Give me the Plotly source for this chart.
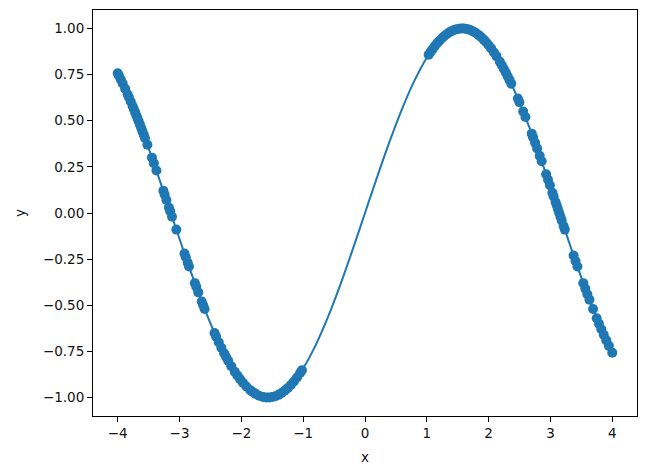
import plotly.graph_objects as go

# Smooth curve (sampled)
line_x = [-4.0, -3.8, -3.6, -3.4, -3.2, -3.0, -2.8, -2.6, -2.4, -2.2, -2.0, -1.8, -1.6, -1.4, -1.2, -1.0,
          -0.8, -0.6, -0.4, -0.2, 0.0, 0.2, 0.4, 0.6, 0.8, 1.0, 1.2, 1.4, 1.6, 1.8, 2.0, 2.2, 2.4, 2.6,
          2.8, 3.0, 3.2, 3.4, 3.6, 3.8, 4.0]
line_y = [0.7568, 0.6119, 0.4425, 0.2555, 0.0584, -0.1411, -0.3350, -0.5155, -0.6755, -0.8085, -0.9093,
          -0.9738, -0.9996, -0.9854, -0.9320, -0.8415, -0.7174, -0.5646, -0.3894, -0.1987, 0.0, 0.1987,
          0.3894, 0.5646, 0.7174, 0.8415, 0.9320, 0.9854, 0.9996, 0.9738, 0.9093, 0.8085, 0.6755, 0.5155,
          0.3350, 0.1411, -0.0584, -0.2555, -0.4425, -0.6119, -0.7568]

# Sampled points
pts_x = [-4.00, -3.98, -3.95, -3.92, -3.88, -3.84, -3.82, -3.79, -3.76, -3.74, -3.72, -3.70, -3.68, -3.66,
         -3.64, -3.62, -3.60, -3.58, -3.56, -3.52, -3.446, -3.415, -3.374, -3.262, -3.242, -3.212, -3.172,
         -3.152, -3.122, -3.052, -2.920, -2.899, -2.868, -2.847, -2.752, -2.730, -2.697, -2.641, -2.618,
         -2.595, -2.434, -2.408, -2.366, -2.324, -2.279, -2.247, -2.214, -2.163, -2.107, -2.066, -2.022,
         -1.974, -1.920, -1.855, -1.816, -1.771, -1.713, -1.65, -1.60, -1.55, -1.50, -1.45, -1.40, -1.35,
         -1.30, -1.25, -1.20, -1.15, -1.10, -1.05, -1.02,
         1.03, 1.06, 1.09, 1.13, 1.17, 1.20, 1.24, 1.28, 1.32, 1.36, 1.40, 1.44, 1.48, 1.52, 1.56, 1.60,
         1.64, 1.68, 1.72, 1.76, 1.80, 1.84, 1.88, 1.92, 1.96, 2.00, 2.04, 2.087, 2.126, 2.181, 2.214,
         2.247, 2.279, 2.309, 2.338, 2.366, 2.473, 2.498, 2.559, 2.595, 2.697, 2.719, 2.752, 2.784, 2.826,
         2.858, 2.930, 2.961, 2.991, 3.031, 3.051, 3.082, 3.102, 3.122, 3.142, 3.162, 3.182, 3.212, 3.232,
         3.374, 3.405, 3.436, 3.531, 3.564, 3.597, 3.631, 3.689, 3.748, 3.785, 3.823, 3.862, 3.903, 3.945,
         4.00]
pts_y = [0.7568, 0.7437, 0.7231, 0.7021, 0.6731, 0.6431, 0.6276, 0.6039, 0.5797, 0.5633, 0.5467, 0.5298,
         0.5127, 0.4954, 0.4780, 0.4604, 0.4425, 0.4245, 0.4063, 0.3694, 0.30, 0.27, 0.23, 0.12, 0.10, 0.07,
         0.03, 0.01, -0.02, -0.09, -0.22, -0.24, -0.27, -0.29, -0.38, -0.40, -0.43, -0.48, -0.50, -0.52,
         -0.65, -0.67, -0.70, -0.73, -0.76, -0.78, -0.80, -0.83, -0.86, -0.88, -0.90, -0.92, -0.94, -0.96,
         -0.97, -0.98, -0.99, -0.9969, -0.9996, -0.9998, -0.9975, -0.9927, -0.9854, -0.9757, -0.9636,
         -0.9490, -0.9320, -0.9128, -0.8912, -0.8674, -0.8521,
         0.8573, 0.8724, 0.8866, 0.9044, 0.9208, 0.9320, 0.9458, 0.9580, 0.9687, 0.9779, 0.9854, 0.9915,
         0.9959, 0.9987, 0.99995, 0.9996, 0.9976, 0.9940, 0.9888, 0.9820, 0.9738, 0.9638, 0.9526, 0.9396,
         0.9252, 0.9093, 0.8919, 0.87, 0.85, 0.82, 0.80, 0.78, 0.76, 0.74, 0.72, 0.70, 0.62, 0.60, 0.55,
         0.52, 0.43, 0.41, 0.38, 0.35, 0.31, 0.28, 0.21, 0.18, 0.15, 0.11, 0.09, 0.06, 0.04, 0.02, 0.00,
         -0.02, -0.04, -0.07, -0.09, -0.23, -0.26, -0.29, -0.38, -0.41, -0.44, -0.47, -0.52, -0.57, -0.60,
         -0.63, -0.66, -0.69, -0.72, -0.757]

x_ticks = [-4, -3, -2, -1, 0, 1, 2, 3, 4]
x_tick_labels = ["\u22124", "\u22123", "\u22122", "\u22121", "0", "1", "2", "3", "4"]
y_ticks = [1.0, 0.75, 0.5, 0.25, 0.0, -0.25, -0.5, -0.75, -1.0]
y_tick_labels = ["1.00", "0.75", "0.50", "0.25", "0.00", "\u22120.25", "\u22120.50", "\u22120.75", "\u22121.00"]

color = "#1f77b4"
txt = "#111"
fig = go.Figure()
fig.add_trace(go.Scatter(x=line_x, y=line_y, mode="lines", line=dict(color=color, width=2, shape="spline"),
                         showlegend=False, hoverinfo="skip"))
fig.add_trace(go.Scatter(x=pts_x, y=pts_y, mode="markers", marker=dict(color=color, size=10),
                         showlegend=False))

axis_common = dict(showgrid=False, zeroline=False, showline=True, linecolor="black", linewidth=1,
                   mirror=True, ticks="outside", ticklen=5, tickcolor="black",
                   tickfont=dict(family="DejaVu Sans", size=13.5, color=txt))
fig.update_xaxes(range=[-4.4, 4.4], tickvals=x_ticks, ticktext=x_tick_labels,
                 title=dict(text="x", font=dict(family="DejaVu Sans", size=13.5, color=txt), standoff=12),
                 **axis_common)
fig.update_yaxes(range=[-1.1, 1.1], tickvals=y_ticks, ticktext=y_tick_labels,
                 title=dict(text="y", font=dict(family="DejaVu Sans", size=13.5, color=txt), standoff=14),
                 **axis_common)
fig.update_layout(width=646, height=473, plot_bgcolor="white", paper_bgcolor="white",
                  margin=dict(l=93, r=9, t=10, b=57, autoexpand=False))
fig.write_html("out.html", config={"displayModeBar": False},
               post_script="document.body.style.margin='0';document.body.style.overflow='hidden';")
